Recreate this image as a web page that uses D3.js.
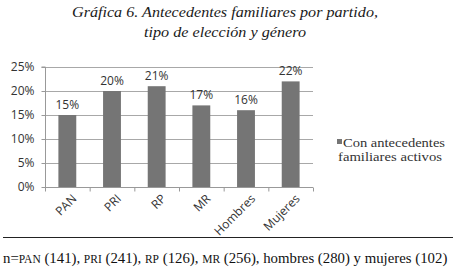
<!DOCTYPE html>
<html><head><meta charset="utf-8">
<script src="https://cdn.jsdelivr.net/npm/d3@7"></script>
<style>body{margin:0;background:#fff}svg{display:block}</style>
</head><body>
<script>
const categories = ["PAN","PRI","RP","MR","Hombres","Mujeres"];
const values = [15,20,21,17,16,22];
const yTicks = [0,5,10,15,20,25];
const seriesName = ["Con antecedentes","familiares activos"];

const W=457,H=278;
const svg=d3.select("body").append("svg").attr("width",W).attr("height",H);
const m={l:45,r:313,t:67,b:187};
const x=d3.scaleBand().domain(categories).range([m.l,m.r]).paddingInner(0.6).paddingOuter(0.3);
const xb=d3.scaleBand().domain(categories).range([m.l,m.r]);
const y=d3.scaleLinear().domain([0,25]).range([m.b,m.t]);
const sans="'Open Sans', 'DejaVu Sans', sans-serif";
const serif="'Liberation Serif','DejaVu Serif',serif";

// title
const t=svg.append("text").attr("font-family",serif).attr("font-style","italic").attr("font-size",15.5).attr("fill","#1a1a1a");
t.append("tspan").attr("x",72).attr("y",17).attr("textLength",306).attr("lengthAdjust","spacingAndGlyphs").text("Gráfica 6. Antecedentes familiares por partido,");
t.append("tspan").attr("x",144).attr("y",37).attr("textLength",162).attr("lengthAdjust","spacingAndGlyphs").text("tipo de elección y género");

// gridlines
svg.append("g").selectAll("line").data(yTicks.filter(d=>d>0)).join("line")
 .attr("x1",m.l).attr("x2",m.r).attr("y1",d=>y(d)+0.5).attr("y2",d=>y(d)+0.5)
 .attr("stroke","#a8a8a8").attr("stroke-width",1);

// y axis
const ya=svg.append("g").attr("transform",`translate(${m.l+0.5},0)`).call(d3.axisLeft(y).tickValues(yTicks).tickFormat(d=>d+"%").tickSize(4).tickPadding(7));
ya.select(".domain").attr("stroke","#999").attr("d",`M-4,${m.t}H0V${m.b}`);
ya.selectAll(".tick line").attr("stroke","#999");
ya.selectAll("text").attr("font-family",sans).attr("font-size",12).attr("fill","#333");

// bars
svg.append("g").selectAll("rect").data(values).join("rect")
 .attr("x",(d,i)=>x(categories[i])).attr("width",x.bandwidth())
 .attr("y",d=>y(d)).attr("height",d=>m.b-y(d)).attr("fill","#757575");

// x axis
const xa=svg.append("g").attr("transform",`translate(0,${m.b+0.5})`);
xa.append("line").attr("x1",m.l).attr("x2",m.r).attr("stroke","#999");
xa.selectAll(".tk").data(categories.concat(["_end"])).join("line")
 .attr("x1",(d,i)=>m.l+i*xb.bandwidth()+0.5).attr("x2",(d,i)=>m.l+i*xb.bandwidth()+0.5)
 .attr("y1",0).attr("y2",4).attr("stroke","#999");
xa.selectAll("text").data(categories).join("text")
 .attr("transform",d=>`translate(${xb(d)+xb.bandwidth()/2+7},${9}) rotate(-45)`)
 .attr("text-anchor","end").attr("dy","0.35em")
 .attr("font-family",sans).attr("font-size",12).attr("fill","#333").text(d=>d);

// value labels
svg.append("g").selectAll("text").data(values).join("text")
 .attr("x",(d,i)=>x(categories[i])+x.bandwidth()/2).attr("y",d=>y(d)-6)
 .attr("text-anchor","middle").attr("font-family",sans).attr("font-size",12).attr("fill","#333")
 .text(d=>d+"%");

// legend
svg.append("rect").attr("x",337).attr("y",139).attr("width",5).attr("height",5).attr("fill","#757575");
const lg=svg.append("text").attr("font-family",serif).attr("font-size",13).attr("fill","#333");
lg.append("tspan").attr("x",343).attr("y",147).attr("textLength",102).attr("lengthAdjust","spacingAndGlyphs").text(seriesName[0]);
lg.append("tspan").attr("x",338).attr("y",161).attr("textLength",104).attr("lengthAdjust","spacingAndGlyphs").text(seriesName[1]);

// rule & note
svg.append("line").attr("x1",3).attr("x2",453).attr("y1",237.5).attr("y2",237.5).attr("stroke","#222").attr("stroke-width",1);
const note=[["n=",0],["PAN",1],[" (141), ",0],["PRI",1],[" (241), ",0],["RP",1],[" (126), ",0],["MR",1],[" (256), hombres (280) y mujeres (102)",0]];
const nt=svg.append("text").attr("x",3).attr("y",263).attr("font-family",serif).attr("font-size",14.8).attr("fill","#111");
nt.selectAll("tspan").data(note).join("tspan").attr("font-size",d=>d[1]?11.5:14.8).text(d=>d[0]);
</script>
</body></html>
